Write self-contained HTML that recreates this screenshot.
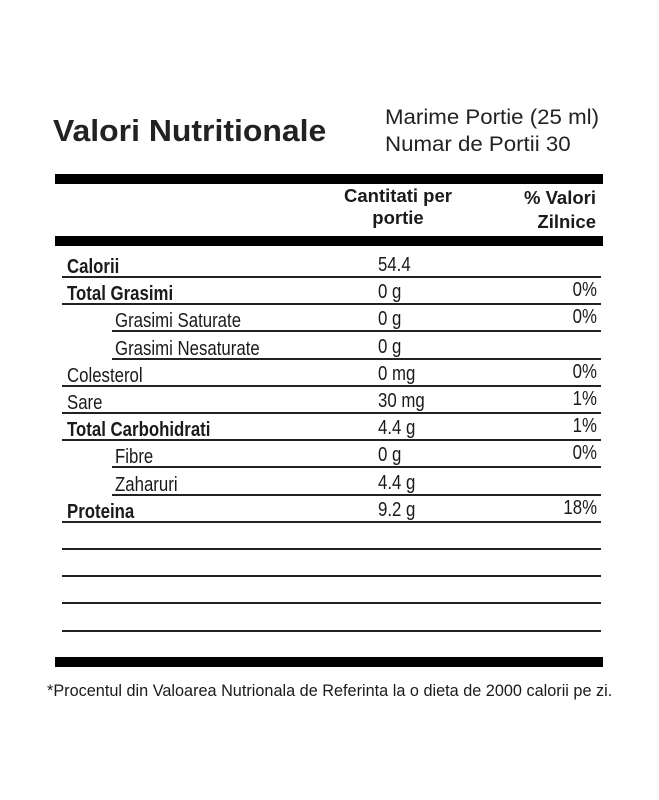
<!DOCTYPE html>
<html><head><meta charset="utf-8">
<style>
body{margin:0;background:#fff;width:659px;height:800px;position:relative;overflow:hidden;font-family:"Liberation Sans",sans-serif;color:#1a1a1a}
.a{position:absolute;white-space:nowrap}
.bar{position:absolute;left:55px;width:548px;height:10px;background:#000}
.ln{position:absolute;height:1.5px;background:#222;right:58px}
.t{position:absolute;font-size:20px;transform:scaleX(.84);transform-origin:left bottom;line-height:1}
.r{transform-origin:right bottom;right:62px}
.b{font-weight:bold}
</style></head><body>
<div class="a b" style="left:53px;top:113px;font-size:31px;transform:scaleX(1.03);transform-origin:left top;color:#222">Valori Nutritionale</div>
<div class="a" style="left:385px;top:106px;font-size:21px;transform:scaleX(1.06);transform-origin:left top;color:#222">Marime Portie (25 ml)</div>
<div class="a" style="left:385px;top:133px;font-size:21px;transform:scaleX(1.06);transform-origin:left top;color:#222">Numar de Portii 30</div>
<div class="bar" style="top:174px"></div>
<div class="a b" style="left:320px;top:185px;width:156px;text-align:center;font-size:18.5px;line-height:22px">Cantitati per<br>portie</div>
<div class="a b" style="right:63px;top:186px;text-align:right;font-size:18.5px;line-height:24px">% Valori<br>Zilnice</div>
<div class="bar" style="top:236px"></div>
<div id="rows"></div>
<div class="bar" style="top:657px"></div>
<div class="a" style="left:47px;top:682px;font-size:16.5px;transform:scaleX(.985);transform-origin:left top">*Procentul din Valoarea Nutrionala de Referinta la o dieta de 2000 calorii pe zi.</div>
<script>
const labels=["Calorii","Total Grasimi","Grasimi Saturate","Grasimi Nesaturate","Colesterol","Sare","Total Carbohidrati","Fibre","Zaharuri","Proteina"];
const amounts=["54.4","0 g","0 g","0 g","0 mg","30 mg","4.4 g","0 g","4.4 g","9.2 g"];
const percents=["","0%","0%","","0%","1%","1%","0%","","18%"];
const bold=[1,1,0,0,0,0,1,0,0,1];
const indent=[0,0,1,1,0,0,0,1,1,0];
const R=document.getElementById('rows');
const y0=276,step=27.2;
labels.forEach((l,i)=>{
 const y=Math.round(y0+i*step);
 const ln=document.createElement('div');ln.className='ln';
 
 
 ln.style.top=y+'px';ln.style.left=(indent[i]?112:62)+'px';R.appendChild(ln);
 const t=document.createElement('div');t.className='t'+(bold[i]?' b':'');
 
 
 t.textContent=l;t.style.left=(indent[i]?115:67)+'px';t.style.top=(y-19)+'px';
 R.appendChild(t);
 const a=document.createElement('div');a.className='t';
 
 
 a.textContent=amounts[i];a.style.left='378px';a.style.top=(y-21)+'px';R.appendChild(a);
 if(percents[i]){const p=document.createElement('div');p.className='t r';
 
 
 p.textContent=percents[i];p.style.top=(y-23)+'px';R.appendChild(p);}
});
for(let k=1;k<=4;k++){const ln=document.createElement('div');ln.className='ln';
 
 
 ln.style.top=Math.round(y0+(9+k)*step)+'px';ln.style.left='62px';R.appendChild(ln);}
</script>
</body></html>
